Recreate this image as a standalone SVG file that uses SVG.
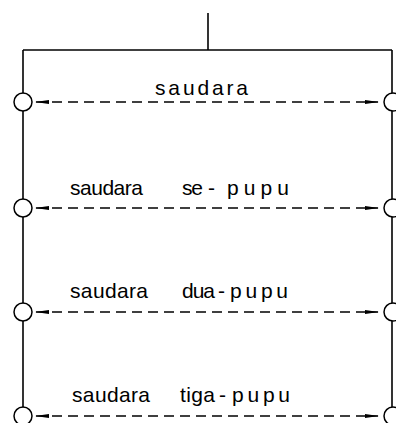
<svg xmlns="http://www.w3.org/2000/svg" width="396" height="423" viewBox="0 0 396 423">
<defs>
<style>
.ln{stroke:#000;stroke-width:1.6;fill:none}
.dash{stroke:#000;stroke-width:1.5;fill:none;stroke-dasharray:10 6}
.node{stroke:#000;stroke-width:1.5;fill:#fff}
.lbl{font-family:"Liberation Sans",Arial,sans-serif;font-size:21px;fill:#000}
</style>
<marker id="ah" markerUnits="userSpaceOnUse" markerWidth="14" markerHeight="6" refX="13" refY="3" orient="auto-start-reverse" viewBox="0 0 14 6">
<path d="M0,1 L14,3 L0,5 z" fill="#000"/>
</marker>
</defs>
<rect width="396" height="423" fill="#fff"/>
<g id="frame">
<line class="ln" x1="208" y1="13" x2="208" y2="50"/>
<line class="ln" x1="23" y1="50" x2="392" y2="50"/>
<line class="ln" x1="23" y1="50" x2="23" y2="423"/>
<line class="ln" x1="392" y1="50" x2="392" y2="423"/>
</g>
<g id="connectors">
<line class="dash" x1="36" y1="102" x2="378" y2="102" marker-start="url(#ah)" marker-end="url(#ah)"/>
<line class="dash" x1="36" y1="208" x2="378" y2="208" marker-start="url(#ah)" marker-end="url(#ah)"/>
<line class="dash" x1="36" y1="312" x2="378" y2="312" marker-start="url(#ah)" marker-end="url(#ah)"/>
<line class="dash" x1="36" y1="416" x2="378" y2="416" marker-start="url(#ah)" marker-end="url(#ah)"/>
</g>
<g id="n-left-1"><circle class="node" cx="23" cy="102" r="9"/></g>
<g id="n-right-1"><circle class="node" cx="393" cy="102" r="9"/></g>
<g id="n-left-2"><circle class="node" cx="23" cy="208" r="9"/></g>
<g id="n-right-2"><circle class="node" cx="393" cy="208" r="9"/></g>
<g id="n-left-3"><circle class="node" cx="23" cy="312" r="9"/></g>
<g id="n-right-3"><circle class="node" cx="393" cy="312" r="9"/></g>
<g id="n-left-4"><circle class="node" cx="23" cy="416" r="9"/></g>
<g id="n-right-4"><circle class="node" cx="393" cy="416" r="9"/></g>
<g id="labels">
<text class="lbl" x="155" y="95" textLength="93" lengthAdjust="spacing">saudara</text>
<text class="lbl" y="195"><tspan x="70" textLength="73" lengthAdjust="spacing">saudara</tspan><tspan x="182" textLength="21" lengthAdjust="spacing">se</tspan><tspan x="208">-</tspan><tspan x="227" textLength="62" lengthAdjust="spacing">pupu</tspan></text>
<text class="lbl" y="298"><tspan x="70" textLength="78" lengthAdjust="spacing">saudara</tspan><tspan x="182" textLength="33" lengthAdjust="spacing">dua</tspan><tspan x="218">-</tspan><tspan x="230" textLength="58" lengthAdjust="spacing">pupu</tspan></text>
<text class="lbl" y="402"><tspan x="72" textLength="78" lengthAdjust="spacing">saudara</tspan><tspan x="180" textLength="35" lengthAdjust="spacing">tiga</tspan><tspan x="219">-</tspan><tspan x="232" textLength="58" lengthAdjust="spacing">pupu</tspan></text>
</g>
</svg>
